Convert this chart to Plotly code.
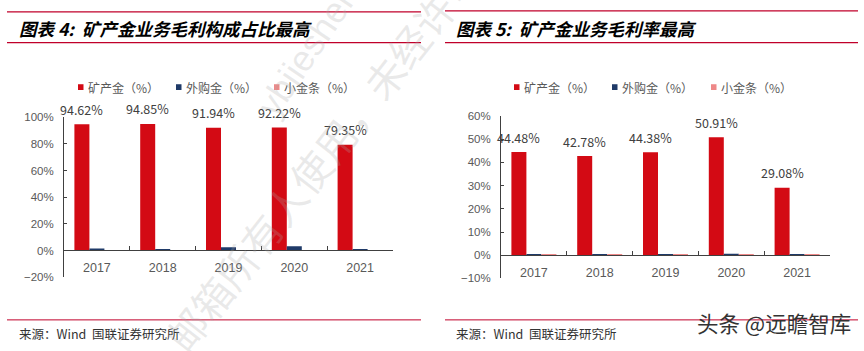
import plotly.graph_objects as go

W, H = 864, 351

# ---------------- data ----------------
years = ["2017", "2018", "2019", "2020", "2021"]
series_names = ["矿产金（%）", "外购金（%）", "小金条（%）"]
# 图表4: 毛利构成占比 (%)
share_mine = [94.62, 94.85, 91.94, 92.22, 79.35]
share_purchased = [1.6, 0.6, 2.5, 3.4, 0.5]
share_goldbar = [0.1, 0.2, 0.1, 0.1, 0.1]
# 图表5: 毛利率 (%)
margin_mine = [44.48, 42.78, 44.38, 50.91, 29.08]
margin_purchased = [0.1, 0.1, 0.3, 0.6, 0.1]
margin_goldbar = [0.05, 0.05, 0.05, 0.05, 0.05]

title_left = "图表 4:  矿产金业务毛利构成占比最高"
title_right = "图表 5:  矿产金业务毛利率最高"
source_text = "来源：Wind  国联证券研究所"
logo_text = "头条 @远瞻智库"

colors = ["#D30A14", "#1F3A68", "#EE8888"]
LINE_RED = "#C0002A"
AX = "#404040"
GRAY = "#595959"
CJK = "Noto Sans CJK SC"
LAT = "Liberation Sans, Arial, sans-serif"


def px(x):
    return x / W


def py(y):
    return 1 - y / H


fig = go.Figure()

for vals, name, col in zip([share_mine, share_purchased, share_goldbar], series_names, colors):
    fig.add_trace(go.Bar(x=years, y=vals, name=name, marker=dict(color=col, line=dict(width=0)),
                         xaxis="x", yaxis="y", showlegend=False))
for vals, name, col in zip([margin_mine, margin_purchased, margin_goldbar], series_names, colors):
    fig.add_trace(go.Bar(x=years, y=vals, name=name, marker=dict(color=col, line=dict(width=0)),
                         xaxis="x2", yaxis="y2", showlegend=False))

xcommon = dict(type="category", range=[-0.5, len(years) - 0.5], showline=True, linecolor=AX,
               linewidth=1, ticks="inside", tickson="boundaries", ticklen=4, tickcolor=AX,
               showgrid=False, zeroline=False, ticklabelstandoff=6,
               tickfont=dict(family=LAT, size=12.5, color=GRAY), anchor="free")
ycommon = dict(showline=True, linecolor=AX, linewidth=1, ticks="inside", ticklen=3, tickcolor=AX,
               showgrid=False, zeroline=False, ticksuffix="%", ticklabelstandoff=7,
               tickfont=dict(family=LAT, size=11.5, color=GRAY))

fig.update_layout(
    width=W, height=H, margin=dict(l=0, r=0, t=0, b=0),
    paper_bgcolor="white", plot_bgcolor="white",
    barmode="group", bargap=0.316, bargroupgap=0,
    xaxis=dict(domain=[px(64), px(393)], position=py(253), **xcommon),
    yaxis=dict(domain=[py(281), py(115)], range=[-20, 100], dtick=20, anchor="x", **ycommon),
    xaxis2=dict(domain=[px(501), px(830)], position=py(258), **xcommon),
    yaxis2=dict(domain=[py(282), py(114)], range=[-10, 60], dtick=10, anchor="x2", **ycommon),
)

ann = []
shapes = []

# data labels on the red bars (x given as category index)
for xr, yr, vals in [("x", "y", share_mine), ("x2", "y2", margin_mine)]:
    for i, v in enumerate(vals):
        ann.append(dict(x=i, y=v, xref=xr, yref=yr, text=f"{v:.2f}%", showarrow=False,
                        xshift=-15, yshift=15, yanchor="middle", xanchor="center",
                        font=dict(family=CJK, size=12.5, color="#404040")))

# titles and frame lines
for x0, x1, tx, ttl, ytop in [(7, 421, 17, title_left, 6), (445, 858, 454, title_right, 5)]:
    shapes.append(dict(type="line", xref="paper", yref="paper", x0=px(x0), x1=px(x1),
                       y0=py(ytop), y1=py(ytop), line=dict(color=LINE_RED, width=1.2)))
    shapes.append(dict(type="line", xref="paper", yref="paper", x0=px(x0), x1=px(x1),
                       y0=py(38), y1=py(38), line=dict(color=LINE_RED, width=1.2)))
    shapes.append(dict(type="line", xref="paper", yref="paper", x0=px(x0), x1=px(x1),
                       y0=py(325), y1=py(325), line=dict(color=LINE_RED, width=1)))
    ann.append(dict(x=px(tx), y=py(23), xref="paper", yref="paper", text=ttl, showarrow=False,
                    xanchor="left", yanchor="middle",
                    font=dict(family=CJK, size=17.5, color="black", weight="bold", style="italic")))
    ann.append(dict(x=px(tx), y=py(339), xref="paper", yref="paper", text=source_text,
                    showarrow=False, xanchor="left", yanchor="middle",
                    font=dict(family=CJK, size=12.5, color="#333333")))

# manual legends
for sq_x in [(78, 176, 274), (514, 612, 711)]:
    for xs, name, col in zip(sq_x, series_names, colors):
        shapes.append(dict(type="rect", xref="paper", yref="paper", x0=px(xs), x1=px(xs + 5.5),
                           y0=py(87), y1=py(81), fillcolor=col, line=dict(width=0)))
        ann.append(dict(x=px(xs + 8), y=py(84), xref="paper", yref="paper", text=name,
                        showarrow=False, xanchor="left", yanchor="middle",
                        font=dict(family=CJK, size=12, color=GRAY)))

# watermark (partly outside the page, as in the reference)
ann.append(dict(x=px(322), y=py(155), xref="paper", yref="paper", text="邮箱所有人使用，未经许可",
                showarrow=False, textangle=-52, xanchor="center", yanchor="middle",
                font=dict(family=CJK, size=40, color="rgba(170,170,170,0.25)")))
ann.append(dict(x=px(308), y=py(45), xref="paper", yref="paper", text="ybjieshen",
                showarrow=False, textangle=-56, xanchor="center", yanchor="middle",
                font=dict(family=LAT, size=36, color="rgba(170,170,170,0.25)")))

# logo
ann.append(dict(x=px(774), y=py(328), xref="paper", yref="paper", text=logo_text,
                showarrow=False, xanchor="center", yanchor="middle",
                font=dict(family=CJK, size=21.5, color="#333333")))

fig.update_layout(annotations=ann, shapes=shapes)
fig.write_html("out.html")
